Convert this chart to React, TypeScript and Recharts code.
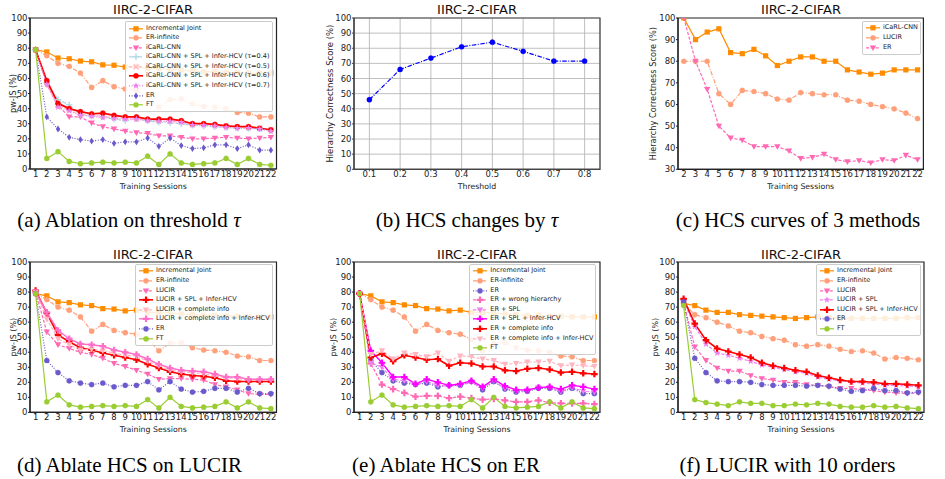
import React from 'react';
import { LineChart, Line, XAxis, YAxis, CartesianGrid, Legend, ReferenceArea } from 'recharts';

const FONT = '"DejaVu Sans", sans-serif';
const SERIF = '"Liberation Serif", "Times New Roman", serif';

// ---------- categories / ticks ----------
const sessions = [1, 2, 3, 4, 5, 6, 7, 8, 9, 10, 11, 12, 13, 14, 15, 16, 17, 18, 19, 20, 21, 22];
const sessionsC = [2, 3, 4, 5, 6, 7, 8, 9, 10, 11, 12, 13, 14, 15, 16, 17, 18, 19, 20, 21, 22];
const thresholds = [0.1, 0.2, 0.3, 0.4, 0.5, 0.6, 0.7, 0.8];
const yTicks100 = [0, 10, 20, 30, 40, 50, 60, 70, 80, 90, 100];
const yTicksC = [30, 40, 50, 60, 70, 80, 90, 100];

// ---------- shared series (a, d, e) ----------
const incrementalJoint = [79, 77.5, 73.5, 73, 71.5, 71, 69, 68.7, 67.5, 68, 66.5, 66.5, 66, 65.5, 65, 64.5, 64.5, 64, 64, 63.5, 63.5, 63.5];
const erInfinite = [79, 75, 70, 68, 63.5, 54, 58.5, 54.5, 53, 52, 48.5, 41, 46, 46.5, 43, 41.5, 41, 40, 37.5, 37, 34.5, 34.5];
const erBase = [79, 34.5, 26.5, 21, 19.5, 18.5, 19.5, 17, 18, 18, 20.5, 15, 20.5, 15.5, 13.5, 14, 16, 16, 13.5, 16, 12.5, 12.5];
const ftBase = [79, 7, 11.5, 5, 3.5, 4, 4.5, 4, 4.5, 4, 8.5, 3, 10, 4, 3, 3.5, 4, 7, 3, 7, 3, 2.5];

// ---------- (a) ----------
const aIcarl = [79, 56, 42, 34.5, 34.5, 30.5, 28, 26.5, 25, 24, 23.5, 22, 22, 21, 20, 20, 20.5, 21, 20.5, 20, 20.5, 21];
const aTau04 = [79, 57, 46, 42.5, 36, 35, 34.5, 33, 32, 33, 32, 31, 30.5, 30, 29, 28.5, 28, 27.5, 27, 27, 26.5, 25.5];
const aTau05 = [79, 57, 42, 39, 36, 35.5, 35, 34, 33.5, 33, 32.5, 32, 31.5, 31, 29.5, 29.5, 29, 28.5, 28, 27.5, 27, 26];
const aTau06 = [79, 58.5, 43.5, 40, 38, 36.5, 37, 35.5, 34.5, 34.5, 33, 33, 33, 32, 30, 30, 29.5, 28.5, 28, 28, 27, 26];
const aTau07 = [79, 56, 41, 38.5, 35.5, 35, 34, 33.5, 33, 33, 32, 31.5, 31.5, 31, 29, 29, 28.5, 27.5, 27, 27, 26.5, 25];

// ---------- (b) ----------
const bHcs = [46, 66, 73.5, 81, 84, 78, 71.5, 71.5];

// ---------- (c) ----------
const cIcarl = [100, 90, 93.5, 95, 84, 83.5, 85.5, 82.5, 78, 80, 82, 82, 80, 80, 76, 75, 74, 74.5, 76, 76, 76];
const cLucir = [80, 80, 80, 65, 60, 66.5, 66, 65, 62.5, 62, 65.5, 65, 64.5, 64.5, 62, 61.5, 60, 59, 58, 56, 53.5];
const cEr = [100, 80, 67, 50, 44.5, 43.5, 40.5, 40.5, 40.5, 38.5, 35, 35.5, 37, 34.5, 33.5, 34, 33, 34.5, 34, 36.5, 34.5];

// ---------- (d) ----------
const dLucir = [80, 53.5, 45, 42.5, 40, 38.5, 36, 32.5, 30.5, 28, 25.5, 22, 22.5, 22.5, 22, 21.5, 18.5, 17, 15, 12.5, 12, 12];
const dSplInfer = [81, 66, 51.5, 47, 43, 41.5, 39.5, 38, 36.5, 35, 32, 29.5, 27, 25.5, 24.5, 24, 23, 21, 20.5, 20.5, 20.5, 20.5];
const dComplete = [80, 62, 49, 45, 41.5, 42, 41, 39.5, 38, 37.5, 34, 31, 28, 27, 26.5, 25.5, 24.5, 23, 22.5, 21.5, 21.5, 21.5];
const dCompleteInfer = [80, 66.5, 54.5, 49, 45.5, 45, 44, 41.5, 40, 38.5, 35.5, 32, 29.5, 28, 27.5, 27, 25.5, 23.5, 23.5, 22, 22, 22];

// ---------- (e) ----------
const eWrong = [79, 32.5, 18.5, 15.5, 13, 10.5, 11, 11, 9.5, 10.5, 9.5, 8.5, 9, 8, 7, 7, 8, 6.5, 6, 6, 6, 5.5];
const eSpl = [79, 33, 30, 22, 21, 18.5, 20.5, 18, 17.5, 18, 20, 16, 21, 16, 14, 14.5, 16.5, 16.5, 14, 16.5, 14, 13.5];
const eSplInfer = [79, 41, 33, 23.5, 23.5, 19, 22, 20, 18, 19, 21, 17, 22, 17.5, 15, 15, 16.5, 17, 15.5, 18, 17, 15.5];
const eComplete = [79, 36.5, 39, 34, 38, 36.5, 35, 35.5, 31, 33, 32.5, 30.5, 30.5, 28, 27.5, 29, 29.5, 28.5, 26.5, 27, 26, 25.5];
const eCompleteInfer = [79, 38.5, 41, 35.5, 39.5, 38.5, 37, 39.5, 34, 37.5, 37, 35.5, 34.5, 32, 32.5, 33.5, 33.5, 34, 31, 31.5, 31, 30.5];

// ---------- (f) ----------
const fIncrementalJoint = [72.5, 71, 68, 66.5, 66.5, 65, 64.5, 64, 63.5, 63, 62.5, 63, 63.5, 63, 62.5, 62.5, 62.5, 62.5, 62.5, 62.5, 63, 63];
const fErInfinite = [72.5, 65, 63, 60, 57.5, 54, 53, 50.5, 49, 48, 45, 44, 45, 44, 42, 40.5, 41, 39.5, 35.5, 36.5, 36, 35];
const fLucir = [73, 43.5, 34.5, 29.5, 27.5, 27.5, 24.5, 22.5, 21.5, 20, 20, 18.5, 18, 17, 16, 16, 15, 14.5, 13.5, 13, 12.5, 13];
const fLucirSpl = [74, 57, 45.5, 39.5, 38, 36, 34, 31.5, 30, 28.5, 27, 26, 23.5, 22, 21, 20, 19.5, 19, 18, 18, 17.5, 17];
const fSplInfer = [75.5, 59, 48, 42.5, 40.5, 38.5, 36.5, 33, 31, 29.5, 28, 27, 24.5, 23, 21.5, 20.5, 20.5, 20, 19, 19, 18.5, 18];
const fEr = [73.5, 36, 26.5, 21, 20.5, 20.5, 20, 18.5, 18, 18, 18, 17.5, 18, 17.5, 15.5, 14, 14.5, 16, 14.5, 14.5, 13, 13.5];
const fFt = [71, 8.5, 6.5, 5.5, 4.5, 7, 6, 6, 4.5, 4.5, 5.5, 5, 6, 5.5, 4, 3.5, 3.5, 4.5, 3.5, 4, 3, 2.5];

// ---------- styles ----------
const C = {
  orange: '#ff8c00',
  salmon: '#ffa07a',
  hotpink: '#ff69b4',
  lightblue: '#add8e6',
  lightpink: '#ffb6c1',
  red: '#ff0000',
  violet: '#ee82ee',
  slate: '#6a5acd',
  green: '#9acd32',
  magenta: '#ff00ff',
  blue: '#0000ff',
  pinkplus: '#ff6ec7',
};
const SOLID = undefined;
const DASH = '3.2 1.6';
const DASHDOT = '4.5 1.5 1 1.5';
const DOT = '1 1.6';

type Series = { name: string; values: number[]; color: string; dash?: string; marker: string; width?: number };

function marker(shape: string, color: string, cx: number, cy: number, key?: any) {
  if (cx == null || cy == null || isNaN(cx) || isNaN(cy)) return <g key={key} />;
  switch (shape) {
    case 'circle':
      return <circle key={key} cx={cx} cy={cy} r={2.6} fill={color} stroke={color} strokeWidth={0.3} />;
    case 'square':
      return <rect key={key} x={cx - 2.6} y={cy - 2.6} width={5.2} height={5.2} fill={color} />;
    case 'tri':
      return <polygon key={key} points={`${cx - 3.2},${cy - 2.4} ${cx + 3.2},${cy - 2.4} ${cx},${cy + 3.2}`} fill={color} />;
    case 'diamond':
      return <polygon key={key} points={`${cx},${cy - 3.4} ${cx + 2.2},${cy} ${cx},${cy + 3.4} ${cx - 2.2},${cy}`} fill={color} />;
    case 'plus': {
      const a = 3.3, b = 1.1;
      return (
        <path
          key={key}
          d={`M${cx - b},${cy - a}H${cx + b}V${cy - b}H${cx + a}V${cy + b}H${cx + b}V${cy + a}H${cx - b}V${cy + b}H${cx - a}V${cy - b}H${cx - b}Z`}
          fill={color}
        />
      );
    }
    case 'x':
      return (
        <g key={key} stroke={color} strokeWidth={1.3}>
          <line x1={cx - 2.4} y1={cy - 2.4} x2={cx + 2.4} y2={cy + 2.4} />
          <line x1={cx - 2.4} y1={cy + 2.4} x2={cx + 2.4} y2={cy - 2.4} />
        </g>
      );
    case 'cross':
      return (
        <g key={key} stroke={color} strokeWidth={1.3}>
          <line x1={cx - 3.2} y1={cy} x2={cx + 3.2} y2={cy} />
          <line x1={cx} y1={cy - 3.2} x2={cx} y2={cy + 3.2} />
        </g>
      );
    case 'star': {
      const pts: string[] = [];
      for (let i = 0; i < 10; i++) {
        const r = i % 2 === 0 ? 3.6 : 1.5;
        const ang = -Math.PI / 2 + (i * Math.PI) / 5;
        pts.push(`${cx + r * Math.cos(ang)},${cy + r * Math.sin(ang)}`);
      }
      return <polygon key={key} points={pts.join(' ')} fill={color} />;
    }
    default:
      return <g key={key} />;
  }
}

function LegendBox({ items, width }: { items: Series[]; width: number }) {
  return (
    <div
      style={{
        background: 'rgba(255,255,255,0.85)',
        border: '1px solid #cccccc',
        borderRadius: 2,
        padding: '1.5px 2px 1.5px 3px',
        width,
        boxSizing: 'border-box',
        fontFamily: FONT,
        fontSize: 6.5,
        color: '#222',
      }}
    >
      {items.map((it) => (
        <div key={it.name} style={{ display: 'flex', alignItems: 'center', height: 9.6, whiteSpace: 'nowrap', lineHeight: '9.6px' }}>
          <svg width={17} height={9.6} style={{ flex: 'none' }}>
            <line x1={0} y1={4.8} x2={14} y2={4.8} stroke={it.color} strokeWidth={it.width ?? 1.2} strokeDasharray={it.dash} />
            {marker(it.marker, it.color, 7, 4.8)}
          </svg>
          <span>{it.name}</span>
        </div>
      ))}
    </div>
  );
}

type PanelProps = {
  box: { x0: number; y0: number; x1: number; y1: number };
  yAxisW: number;
  xs: number[];
  series: Series[];
  xDomain: [number, number];
  xTicks: number[];
  yDomain: [number, number];
  yTicks: number[];
  xLabel: string;
  yLabel: string;
  yLabelSize: number;
  legend?: { left: number; top: number; width: number };
  grid?: boolean;
  frameColor?: string;
};

const MT = 4;
const MR = 4;
const XH = 24;

function Panel(p: PanelProps) {
  const left = p.box.x0 - p.yAxisW;
  const top = p.box.y0 - MT;
  const width = p.box.x1 - left + MR;
  const height = p.box.y1 - top + XH;
  const data = p.xs.map((x, i) => {
    const row: any = { x };
    p.series.forEach((s, j) => {
      row['s' + j] = s.values[i];
    });
    return row;
  });
  const frame = p.frameColor ?? '#222';
  const tickStyle = { fontSize: 8.5, fill: '#222', fontFamily: FONT };
  return (
    <div style={{ position: 'absolute', left, top }}>
      <LineChart width={width} height={height} data={data} margin={{ top: MT, right: MR, bottom: 0, left: 0 }}>
        {p.grid && <CartesianGrid stroke="#b8b8b8" strokeWidth={0.9} />}
        <XAxis
          dataKey="x"
          type="number"
          domain={p.xDomain}
          ticks={p.xTicks}
          interval={0}
          height={XH}
          allowDataOverflow
          tickSize={2}
          tickMargin={0}
          tick={tickStyle}
          tickLine={{ stroke: frame }}
          axisLine={{ stroke: frame, strokeWidth: 1.2 }}
          label={{ value: p.xLabel, position: 'insideBottom', offset: 4.5, fontSize: 7.8, fill: '#222', fontFamily: FONT }}
        />
        <YAxis
          type="number"
          domain={p.yDomain}
          ticks={p.yTicks}
          interval={0}
          width={p.yAxisW}
          allowDataOverflow
          tickSize={2}
          tickMargin={0.5}
          tick={tickStyle}
          tickLine={{ stroke: frame }}
          axisLine={{ stroke: frame, strokeWidth: 1.2 }}
          label={{ value: p.yLabel, angle: -90, position: 'center', fontSize: p.yLabelSize, fill: '#222', fontFamily: FONT }}
        />
        <ReferenceArea
          x1={p.xDomain[0]}
          x2={p.xDomain[1]}
          y1={p.yDomain[0]}
          y2={p.yDomain[1]}
          fill="none"
          fillOpacity={0}
          stroke={frame}
          strokeWidth={1.2}
          ifOverflow="visible"
        />
        {p.series.map((s, j) => (
          <Line
            key={s.name}
            type="linear"
            dataKey={'s' + j}
            name={s.name}
            stroke={s.color}
            strokeWidth={s.width ?? 1.2}
            strokeDasharray={s.dash}
            dot={(d: any) => marker(s.marker, s.color, d.cx, d.cy, `${s.name}-${d.index}`)}
            activeDot={false}
            isAnimationActive={false}
          />
        ))}
        {p.legend && (
          <Legend
            layout="vertical"
            align="center"
            verticalAlign="middle"
            wrapperStyle={{ left: p.legend.left - left, top: p.legend.top - top, width: p.legend.width, height: 'auto' }}
            content={() => <LegendBox items={p.series} width={p.legend!.width} />}
          />
        )}
      </LineChart>
    </div>
  );
}

function Title({ cx, cy, text }: { cx: number; cy: number; text: string }) {
  return (
    <div
      style={{
        position: 'absolute',
        left: cx - 100,
        width: 200,
        top: cy - 8,
        height: 16,
        lineHeight: '16px',
        textAlign: 'center',
        fontFamily: FONT,
        fontSize: 13,
        color: '#111',
      }}
    >
      {text}
    </div>
  );
}

function Caption({ cx, cy, children }: { cx: number; cy: number; children: React.ReactNode }) {
  return (
    <div
      style={{
        position: 'absolute',
        left: cx - 160,
        width: 320,
        top: cy - 12,
        height: 24,
        lineHeight: '24px',
        textAlign: 'center',
        fontFamily: SERIF,
        fontSize: 21,
        color: '#000',
        whiteSpace: 'nowrap',
      }}
    >
      {children}
    </div>
  );
}

const seriesA: Series[] = [
  { name: 'Incremental Joint', values: incrementalJoint, color: C.orange, dash: SOLID, marker: 'square' },
  { name: 'ER-infinite', values: erInfinite, color: C.salmon, dash: DASHDOT, marker: 'circle' },
  { name: 'iCaRL-CNN', values: aIcarl, color: C.hotpink, dash: DASH, marker: 'tri' },
  { name: 'iCaRL-CNN + SPL + Infer-HCV (τ=0.4)', values: aTau04, color: C.lightblue, dash: DASHDOT, marker: 'cross' },
  { name: 'iCaRL-CNN + SPL + Infer-HCV (τ=0.5)', values: aTau05, color: C.lightpink, dash: DASH, marker: 'x' },
  { name: 'iCaRL-CNN + SPL + Infer-HCV (τ=0.6)', values: aTau06, color: C.red, dash: SOLID, marker: 'circle', width: 1.7 },
  { name: 'iCaRL-CNN + SPL + Infer-HCV (τ=0.7)', values: aTau07, color: C.violet, dash: DOT, marker: 'star' },
  { name: 'ER', values: erBase, color: C.slate, dash: DOT, marker: 'diamond' },
  { name: 'FT', values: ftBase, color: C.green, dash: SOLID, marker: 'circle' },
];

const seriesB: Series[] = [{ name: 'HCS', values: bHcs, color: C.blue, dash: DASHDOT, marker: 'circle' }];

const seriesC: Series[] = [
  { name: 'iCaRL-CNN', values: cIcarl, color: C.orange, dash: SOLID, marker: 'square' },
  { name: 'LUCIR', values: cLucir, color: C.salmon, dash: DASHDOT, marker: 'circle' },
  { name: 'ER', values: cEr, color: C.hotpink, dash: DASH, marker: 'tri' },
];

const seriesD: Series[] = [
  { name: 'Incremental Joint', values: incrementalJoint, color: C.orange, dash: SOLID, marker: 'square' },
  { name: 'ER-infinite', values: erInfinite, color: C.salmon, dash: DASHDOT, marker: 'circle' },
  { name: 'LUCIR', values: dLucir, color: C.hotpink, dash: DASH, marker: 'tri' },
  { name: 'LUCIR + SPL + Infer-HCV', values: dSplInfer, color: C.red, dash: SOLID, marker: 'plus', width: 1.6 },
  { name: 'LUCIR + complete info', values: dComplete, color: C.lightpink, dash: DASH, marker: 'tri' },
  { name: 'LUCIR + complete info + Infer-HCV', values: dCompleteInfer, color: C.pinkplus, dash: SOLID, marker: 'plus', width: 1.4 },
  { name: 'ER', values: erBase, color: C.slate, dash: DOT, marker: 'circle' },
  { name: 'FT', values: ftBase, color: C.green, dash: SOLID, marker: 'circle' },
];

const seriesE: Series[] = [
  { name: 'Incremental Joint', values: incrementalJoint, color: C.orange, dash: SOLID, marker: 'square' },
  { name: 'ER-infinite', values: erInfinite, color: C.salmon, dash: DASHDOT, marker: 'circle' },
  { name: 'ER', values: erBase, color: C.slate, dash: DOT, marker: 'circle' },
  { name: 'ER + wrong hierarchy', values: eWrong, color: C.hotpink, dash: DASH, marker: 'plus' },
  { name: 'ER + SPL', values: eSpl, color: C.violet, dash: DASH, marker: 'tri' },
  { name: 'ER + SPL + Infer-HCV', values: eSplInfer, color: C.magenta, dash: SOLID, marker: 'plus', width: 1.4 },
  { name: 'ER + complete info', values: eComplete, color: C.red, dash: SOLID, marker: 'plus', width: 1.6 },
  { name: 'ER + complete info + Infer-HCV', values: eCompleteInfer, color: C.lightpink, dash: DASH, marker: 'tri' },
  { name: 'FT', values: ftBase, color: C.green, dash: SOLID, marker: 'circle' },
];

const seriesF: Series[] = [
  { name: 'Incremental Joint', values: fIncrementalJoint, color: C.orange, dash: SOLID, marker: 'square' },
  { name: 'ER-infinite', values: fErInfinite, color: C.salmon, dash: DASHDOT, marker: 'circle' },
  { name: 'LUCIR', values: fLucir, color: C.hotpink, dash: DASH, marker: 'tri' },
  { name: 'LUCIR + SPL', values: fLucirSpl, color: C.violet, dash: DASH, marker: 'star' },
  { name: 'LUCIR + SPL + Infer-HCV', values: fSplInfer, color: C.red, dash: SOLID, marker: 'plus', width: 1.6 },
  { name: 'ER', values: fEr, color: C.slate, dash: DOT, marker: 'circle' },
  { name: 'FT', values: fFt, color: C.green, dash: SOLID, marker: 'circle' },
];

const TAU = <i>τ</i>;

export default function App() {
  return (
    <div style={{ position: 'absolute', left: 0, top: 0, width: 945, height: 479, background: '#fff', overflow: 'hidden' }}>
      <Panel
        box={{ x0: 29.5, y0: 18, x1: 276, y1: 169 }}
        yAxisW={33}
        xs={sessions}
        series={seriesA}
        xDomain={[0.5, 22.5]}
        xTicks={sessions}
        yDomain={[0, 100]}
        yTicks={yTicks100}
        xLabel="Training Sessions"
        yLabel="pw-JS (%)"
        yLabelSize={8}
        legend={{ left: 125, top: 21, width: 148 }}
      />
      <Panel
        box={{ x0: 354, y0: 17.7, x1: 600, y1: 169 }}
        yAxisW={48}
        xs={thresholds}
        series={seriesB}
        xDomain={[0.05, 0.85]}
        xTicks={thresholds}
        yDomain={[0, 100]}
        yTicks={yTicks100}
        xLabel="Threshold"
        yLabel="Hierarchy Correctness Score (%)"
        yLabelSize={8.5}
        grid
        frameColor="#444"
      />
      <Panel
        box={{ x0: 678.3, y0: 17.7, x1: 923.7, y1: 169 }}
        yAxisW={50}
        xs={sessionsC}
        series={seriesC}
        xDomain={[1.5, 22.5]}
        xTicks={sessionsC}
        yDomain={[30, 100]}
        yTicks={yTicksC}
        xLabel="Training Sessions"
        yLabel="Hierarchy Correctness Score (%)"
        yLabelSize={8.2}
        legend={{ left: 862, top: 21, width: 59 }}
      />
      <Panel
        box={{ x0: 29.5, y0: 262.3, x1: 276, y1: 412.7 }}
        yAxisW={33}
        xs={sessions}
        series={seriesD}
        xDomain={[0.5, 22.5]}
        xTicks={sessions}
        yDomain={[0, 100]}
        yTicks={yTicks100}
        xLabel="Training Sessions"
        yLabel="pw-JS (%)"
        yLabelSize={8}
        legend={{ left: 135, top: 264, width: 138 }}
      />
      <Panel
        box={{ x0: 354, y0: 262.3, x1: 600, y1: 412.7 }}
        yAxisW={42}
        xs={sessions}
        series={seriesE}
        xDomain={[0.5, 22.5]}
        xTicks={sessions}
        yDomain={[0, 100]}
        yTicks={yTicks100}
        xLabel="Training Sessions"
        yLabel="pw-JS (%)"
        yLabelSize={8}
        legend={{ left: 469.3, top: 264, width: 127 }}
      />
      <Panel
        box={{ x0: 677.7, y0: 262.3, x1: 923.7, y1: 412.7 }}
        yAxisW={45}
        xs={sessions}
        series={seriesF}
        xDomain={[0.5, 22.5]}
        xTicks={sessions}
        yDomain={[0, 100]}
        yTicks={yTicks100}
        xLabel="Training Sessions"
        yLabel="pw-JS (%)"
        yLabelSize={8}
        legend={{ left: 816, top: 264, width: 105 }}
      />

      <Title cx={153} cy={10} text="IIRC-2-CIFAR" />
      <Title cx={477} cy={10} text="IIRC-2-CIFAR" />
      <Title cx={801} cy={10} text="IIRC-2-CIFAR" />
      <Title cx={153} cy={255} text="IIRC-2-CIFAR" />
      <Title cx={477} cy={255} text="IIRC-2-CIFAR" />
      <Title cx={801} cy={255} text="IIRC-2-CIFAR" />

      <Caption cx={129} cy={220}>(a) Ablation on threshold {TAU}</Caption>
      <Caption cx={467} cy={220}>(b) HCS changes by {TAU}</Caption>
      <Caption cx={798} cy={220}>(c) HCS curves of 3 methods</Caption>
      <Caption cx={129.5} cy={465}>(d) Ablate HCS on LUCIR</Caption>
      <Caption cx={446} cy={465}>(e) Ablate HCS on ER</Caption>
      <Caption cx={787.5} cy={465}>(f) LUCIR with 10 orders</Caption>
    </div>
  );
}
